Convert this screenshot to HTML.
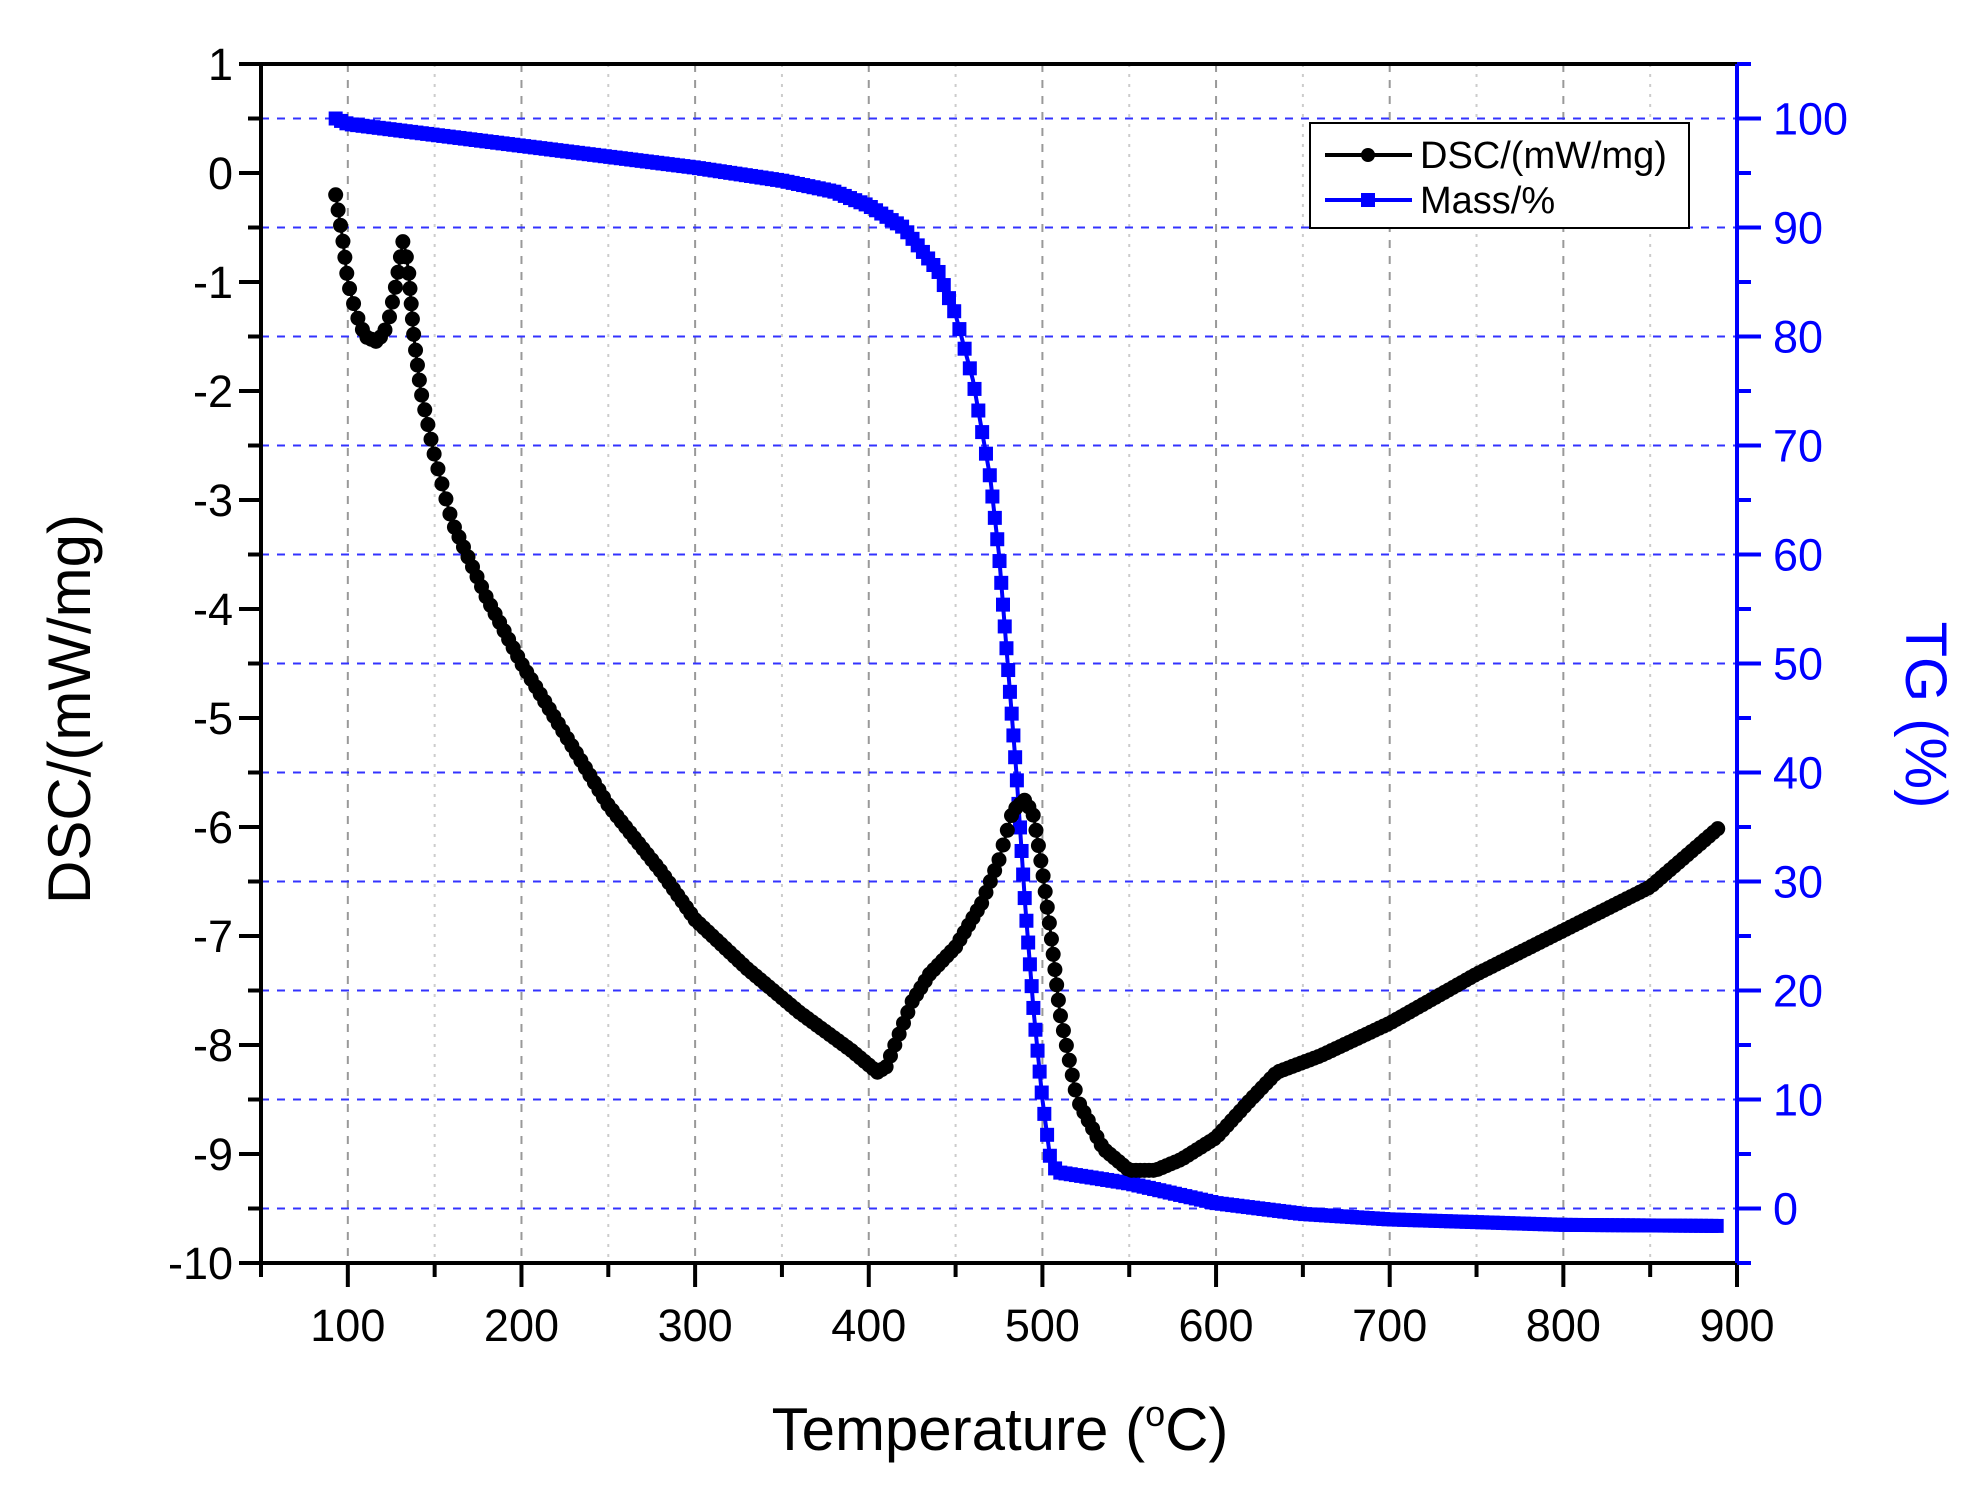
<!DOCTYPE html>
<html><head><meta charset="utf-8"><style>
html,body{margin:0;padding:0;background:#fff;}
svg{display:block;font-family:"Liberation Sans",Arial,sans-serif;}
</style></head><body>
<svg id="s" width="1978" height="1492" viewBox="0 0 1978 1492" xmlns="http://www.w3.org/2000/svg">
<g id="grid"></g>
<g id="data"></g>
<g id="axes"></g>
<rect x="1310" y="123" width="379" height="105" fill="#fff" stroke="#000" stroke-width="2"/>
<line x1="1325" y1="155" x2="1412" y2="155" stroke="#000" stroke-width="4"/>
<circle cx="1368" cy="155" r="7" fill="#000"/>
<text x="1420" y="168" font-size="38">DSC/(mW/mg)</text>
<line x1="1325" y1="200" x2="1412" y2="200" stroke="#00f" stroke-width="4"/>
<rect x="1361" y="193" width="14" height="14" fill="#00f"/>
<text x="1420" y="213" font-size="38">Mass/%</text>
<text x="1000" y="1450" font-size="60" text-anchor="middle">Temperature (<tspan font-size="36" dy="-24">o</tspan><tspan dy="24">C)</tspan></text>
<text transform="translate(90,709) rotate(-90)" font-size="60" text-anchor="middle">DSC/(mW/mg)</text>
<text transform="translate(1906,715) rotate(90)" font-size="58" text-anchor="middle" fill="#00f">TG (%)</text>
</svg>
<script>
const L=261,R=1737,T=64,B=1263;
const X=t=>L+(t-50)*(R-L)/850;
const YD=v=>T+(1-v)*109;
const YT2=p=>YD(-9.5+p/10);
const NS="http://www.w3.org/2000/svg";
function el(par,tag,a){const e=document.createElementNS(NS,tag);for(const k in a)e.setAttribute(k,a[k]);document.getElementById(par).appendChild(e);return e;}
for(let t=100;t<900;t+=50){el("grid","line",{x1:X(t),x2:X(t),y1:T,y2:B,stroke:t%100?"#ccc":"#999","stroke-width":2,"stroke-dasharray":t%100?"3,7":"8,8"});}
for(let p=0;p<=100;p+=10){el("grid","line",{x1:L,x2:R,y1:YT2(p),y2:YT2(p),stroke:"#33f","stroke-width":2,"stroke-dasharray":"8,8"});}
el("axes","rect",{x:L,y:T,width:R-L,height:B-T,fill:"none",stroke:"#000","stroke-width":4});
el("axes","line",{x1:R,x2:R,y1:T,y2:B,stroke:"#00f","stroke-width":4});
for(let v=1;v>=-10;v--){const y=YD(v);el("axes","line",{x1:L-22,x2:L,y1:y,y2:y,stroke:"#000","stroke-width":4});
 const tx=el("axes","text",{x:L-28,y:y+16,"font-size":45,"text-anchor":"end"});tx.textContent=v;
 if(v>-10){const y2=YD(v-0.5);el("axes","line",{x1:L-13,x2:L,y1:y2,y2:y2,stroke:"#000","stroke-width":4});}}
for(let t=100;t<=900;t+=100){el("axes","line",{x1:X(t),x2:X(t),y1:B,y2:B+24,stroke:"#000","stroke-width":4});
 const tx=el("axes","text",{x:X(t),y:B+78,"font-size":45,"text-anchor":"middle"});tx.textContent=t;}
for(let t=50;t<900;t+=100){el("axes","line",{x1:X(t),x2:X(t),y1:B,y2:B+14,stroke:"#000","stroke-width":4});}
for(let p=-5;p<=105;p+=5){const y=YT2(p);const maj=p%10==0;el("axes","line",{x1:R,x2:R+(maj?24:14),y1:y,y2:y,stroke:"#00f","stroke-width":4});
 if(maj){const tx=el("axes","text",{x:R+36,y:y+16,"font-size":45,fill:"#00f"});tx.textContent=p;}}
const dsc=[[93,-0.2],[97,-0.6],[100,-1.0],[105,-1.3],[110,-1.5],[117,-1.55],[123,-1.4],[128,-1.0],[132,-0.6],[135,-0.9],[138,-1.5],[142,-2.0],[150,-2.6],[160,-3.2],[180,-3.9],[200,-4.5],[250,-5.8],[280,-6.4],[300,-6.85],[330,-7.3],[360,-7.7],[390,-8.05],[405,-8.25],[410,-8.2],[415,-8.0],[425,-7.6],[435,-7.35],[450,-7.1],[465,-6.7],[475,-6.3],[483,-5.85],[490,-5.75],[495,-5.9],[500,-6.4],[505,-7.0],[510,-7.7],[520,-8.5],[535,-8.95],[550,-9.15],[565,-9.15],[580,-9.05],[600,-8.85],[620,-8.5],[635,-8.25],[660,-8.1],[680,-7.95],[700,-7.8],[750,-7.35],[800,-6.95],[850,-6.55],[890,-6.0]];
const tg=[[93,100],[100,99.5],[200,97.5],[300,95.5],[350,94.3],[380,93.3],[400,92],[420,90],[440,86],[450,82],[460,76],[470,67],[475,60],[480,50],[485,40],[490,28],[495,18],[500,10],[505,4],[510,3.3],[550,2.3],[600,0.5],[650,-0.5],[700,-1],[800,-1.5],[890,-1.6]];
function interp(d,t){for(let i=1;i<d.length;i++){if(t<=d[i][0]){const a=d[i-1],b=d[i];return a[1]+(b[1]-a[1])*(t-a[0])/(b[0]-a[0]);}}return d[d.length-1][1];}
function markers(d,Y,sp,dt,draw){let lx=null,ly=null,lt=0;for(let t=93;t<=890;t+=0.1){const x=X(t),y=Y(interp(d,t));if(lx===null||Math.hypot(x-lx,y-ly)>=sp||t-lt>=dt){draw(x,y);lx=x;ly=y;lt=t;}}}
el("data","polyline",{points:tg.map(p=>X(p[0])+","+YT2(p[1])).join(" "),fill:"none",stroke:"#00f","stroke-width":4});
markers(tg,YT2,21,3,(x,y)=>el("data","rect",{x:x-7,y:y-7,width:14,height:14,fill:"#00f"}));
el("data","polyline",{points:dsc.map(p=>X(p[0])+","+YD(p[1])).join(" "),fill:"none",stroke:"#000","stroke-width":3});
markers(dsc,YD,15,2.5,(x,y)=>el("data","circle",{cx:x,cy:y,r:7.5,fill:"#000"}));
</script>
</body></html>
